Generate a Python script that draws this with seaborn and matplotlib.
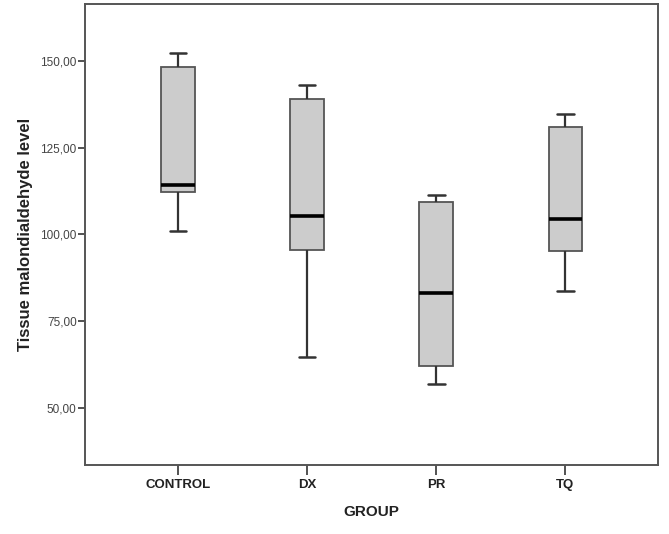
import numpy as np
import pandas as pd
import seaborn as sns
import matplotlib.pyplot as plt

# values: min, Q1, median, Q3, max for each group
groups = ['CONTROL', 'DX', 'PR', 'TQ']
control = [101.0, 112.3, 114.3, 148.3, 152.3]
dx = [64.7, 95.5, 105.2, 139.0, 143.1]
pr = [57.0, 62.1, 83.0, 109.4, 111.4]
tq = [83.7, 95.1, 104.4, 131.0, 134.8]
y_ticks = [50, 75, 100, 125, 150]

df = pd.DataFrame({
    'GROUP': np.repeat(groups, 5),
    'value': control + dx + pr + tq,
})

sns.set_style('white')
plt.rcParams['font.family'] = ['Liberation Sans', 'DejaVu Sans']

fig = plt.figure(figsize=(6.69, 5.34), dpi=100)
ax = fig.add_axes([0.127, 0.129, 0.857, 0.863])

sns.boxplot(x='GROUP', y='value', data=df, order=groups, ax=ax,
            whis=np.inf, width=0.26, color='#cccccc',
            linecolor='#555555', linewidth=1.3,
            medianprops={'color': 'black', 'linewidth': 2.6},
            whiskerprops={'color': '#333333', 'linewidth': 1.6},
            capprops={'color': '#333333', 'linewidth': 1.8})

ax.set_xlim(-0.72, 3.72)
ax.set_ylim(33.5, 166.3)
ax.set_yticks(y_ticks)
ax.set_yticklabels([f'{v},00' for v in y_ticks], fontsize=8.5, color='#444444')
ax.set_xticks(range(len(groups)))
ax.set_xticklabels(groups, fontsize=9.5, fontweight='bold', color='#222222')

for s in ax.spines.values():
    s.set_visible(True)
    s.set_color('#555555')
    s.set_linewidth(1.4)

ax.tick_params(axis='y', direction='out', length=5, width=1.3, color='#444444', pad=1, left=True)
ax.tick_params(axis='x', direction='out', length=7, width=1.3, color='#444444', pad=3, bottom=True)

ax.set_xlabel('GROUP', fontsize=11, fontweight='bold', color='#222222', labelpad=10)
ax.set_ylabel('Tissue malondialdehyde level', fontsize=12, fontweight='bold',
              color='#222222', labelpad=5)

fig.savefig('out.png', dpi=100)
